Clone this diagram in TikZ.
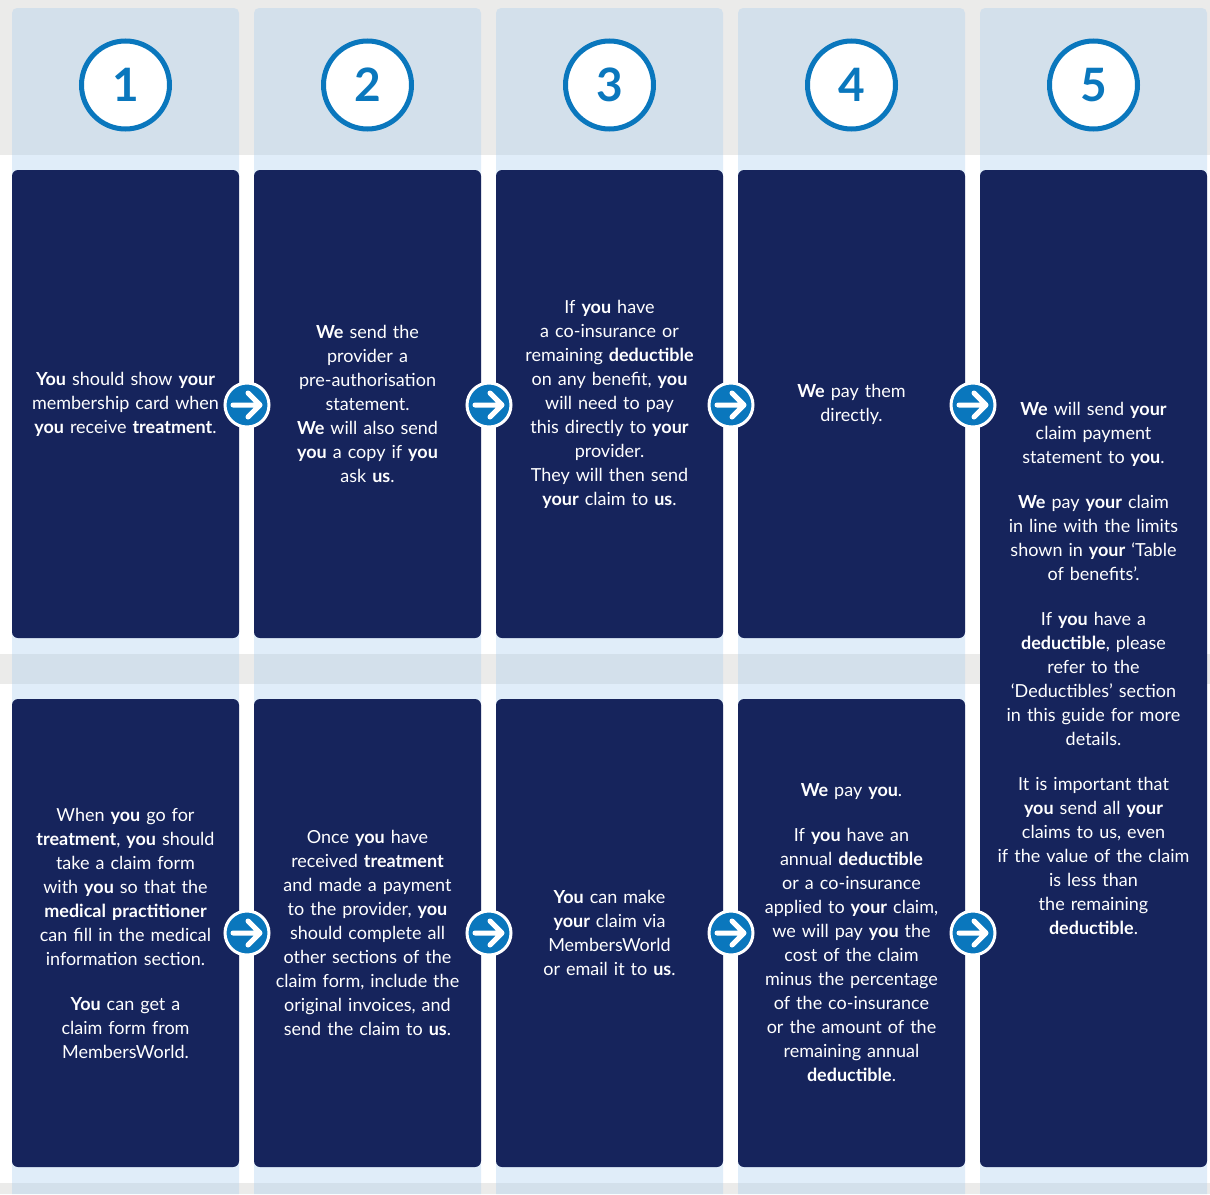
\documentclass[tikz,border=0pt]{standalone}
\usepackage{fontspec}
\setmainfont{Lato}
\usetikzlibrary{positioning}

\definecolor{navy}{RGB}{22,36,92}
\definecolor{stepblue}{RGB}{10,119,189}
\definecolor{bandgrey}{RGB}{235,235,234}
\definecolor{paleblue}{RGB}{169,204,238}

\tikzset{
  band/.style={fill=bandgrey},
  lane/.style={fill=paleblue, fill opacity=0.35},
  card/.style={rectangle, rounded corners=6pt, fill=navy, text=white,
    minimum width=227pt, minimum height=468pt, inner sep=0pt,
    text width=222pt, align=center, font=\fontsize{18}{24}\selectfont},
  stepnum/.style={circle, draw=stepblue, line width=5pt, fill=white,
    minimum size=88pt, inner sep=0pt, text=stepblue,
    font=\fontsize{46}{46}\selectfont\bfseries},
  nextstep/.style={circle, draw=white, line width=3pt, fill=stepblue,
    minimum size=44pt, inner sep=0pt,
    path picture={
      \draw[white, line width=5pt, line cap=round, line join=round]
        ([xshift=-14pt]path picture bounding box.center)
          -- ([xshift=13pt]path picture bounding box.center)
        ([xshift=1pt,yshift=12pt]path picture bounding box.center)
          -- ([xshift=13pt]path picture bounding box.center)
          -- ([xshift=1pt,yshift=-12pt]path picture bounding box.center);
    }},
}

\begin{document}
\begin{tikzpicture}[x=1pt, y=-1pt]
  \useasboundingbox (0,0) rectangle (1210,1194);
  \fill[white] (0,0) rectangle (1210,1194);

  % grey bands behind the lanes
  \fill[band] (0,0) rectangle (1210,155);
  \fill[band] (0,654) rectangle (1210,684);
  \fill[band] (0,1183) rectangle (1210,1194);

  % five lanes with the step numbers
  \foreach \i in {1,...,5} {
    \pgfmathsetmacro\xl{12+242*(\i-1)}
    \fill[lane] (\xl,1194) [rounded corners=5pt] -- (\xl,8) -- (\xl+227,8)
      [sharp corners] -- (\xl+227,1194) -- cycle;
    \node[stepnum] (n\i) at (\xl+113.5,85) {\i};
  }

  % direct settlement
  \node[card] (direct1) at (125.5,404)
    {\textbf{You} should show \textbf{your}\\membership card when\\\textbf{you} receive \textbf{treatment}.};
  \node[card] (direct2) at (367.5,404)
    {\textbf{We} send the\\provider a\\pre-authorisation\\statement.\\\textbf{We} will also send\\\textbf{you} a copy if \textbf{you}\\ask \textbf{us}.};
  \node[card] (direct3) at (609.5,404)
    {If \textbf{you} have\\a co-insurance or\\remaining \textbf{deductible}\\on any benefit, \textbf{you}\\will need to pay\\this directly to \textbf{your}\\provider.\\They will then send\\\textbf{your} claim to \textbf{us}.};
  \node[card] (direct4) at (851.5,404)
    {\textbf{We} pay them\\directly.};

  % reimbursement
  \node[card] (refund1) at (125.5,933)
    {When \textbf{you} go for\\\textbf{treatment}, \textbf{you} should\\take a claim form\\with \textbf{you} so that the\\\textbf{medical practitioner}\\can fill in the medical\\information section.\\[21pt]\textbf{You} can get a\\claim form from\\MembersWorld.};
  \node[card] (refund2) at (367.5,933)
    {Once \textbf{you} have\\received \textbf{treatment}\\and made a payment\\to the provider, \textbf{you}\\should complete all\\other sections of the\\claim form, include the\\original invoices, and\\send the claim to \textbf{us}.};
  \node[card] (refund3) at (609.5,933)
    {\textbf{You} can make\\\textbf{your} claim via\\MembersWorld\\or email it to \textbf{us}.};
  \node[card] (refund4) at (851.5,933)
    {\textbf{We} pay \textbf{you}.\\[21pt]If \textbf{you} have an\\annual \textbf{deductible}\\or a co-insurance\\applied to \textbf{your} claim,\\we will pay \textbf{you} the\\cost of the claim\\minus the percentage\\of the co-insurance\\or the amount of the\\remaining annual\\\textbf{deductible}.};

  % last step, shared by both rows
  \node[card, minimum height=997pt] (paid) at (1093.5,668.5)
    {\textbf{We} will send \textbf{your}\\claim payment\\statement to \textbf{you}.\\[21pt]\textbf{We} pay \textbf{your} claim\\in line with the limits\\shown in \textbf{your} ‘Table\\of benefits’.\\[21pt]If \textbf{you} have a\\\textbf{deductible}, please\\refer to the\\‘Deductibles’ section\\in this guide for more\\details.\\[21pt]It is important that\\\textbf{you} send all \textbf{your}\\claims to us, even\\if the value of the claim\\is less than\\the remaining\\\textbf{deductible}.};

  % arrows between the steps
  \foreach \x [count=\i] in {247,489,731,973} {
    \node[nextstep] (a\i) at (\x,405) {};
    \node[nextstep] (b\i) at (\x,933) {};
  }
\end{tikzpicture}
\end{document}
